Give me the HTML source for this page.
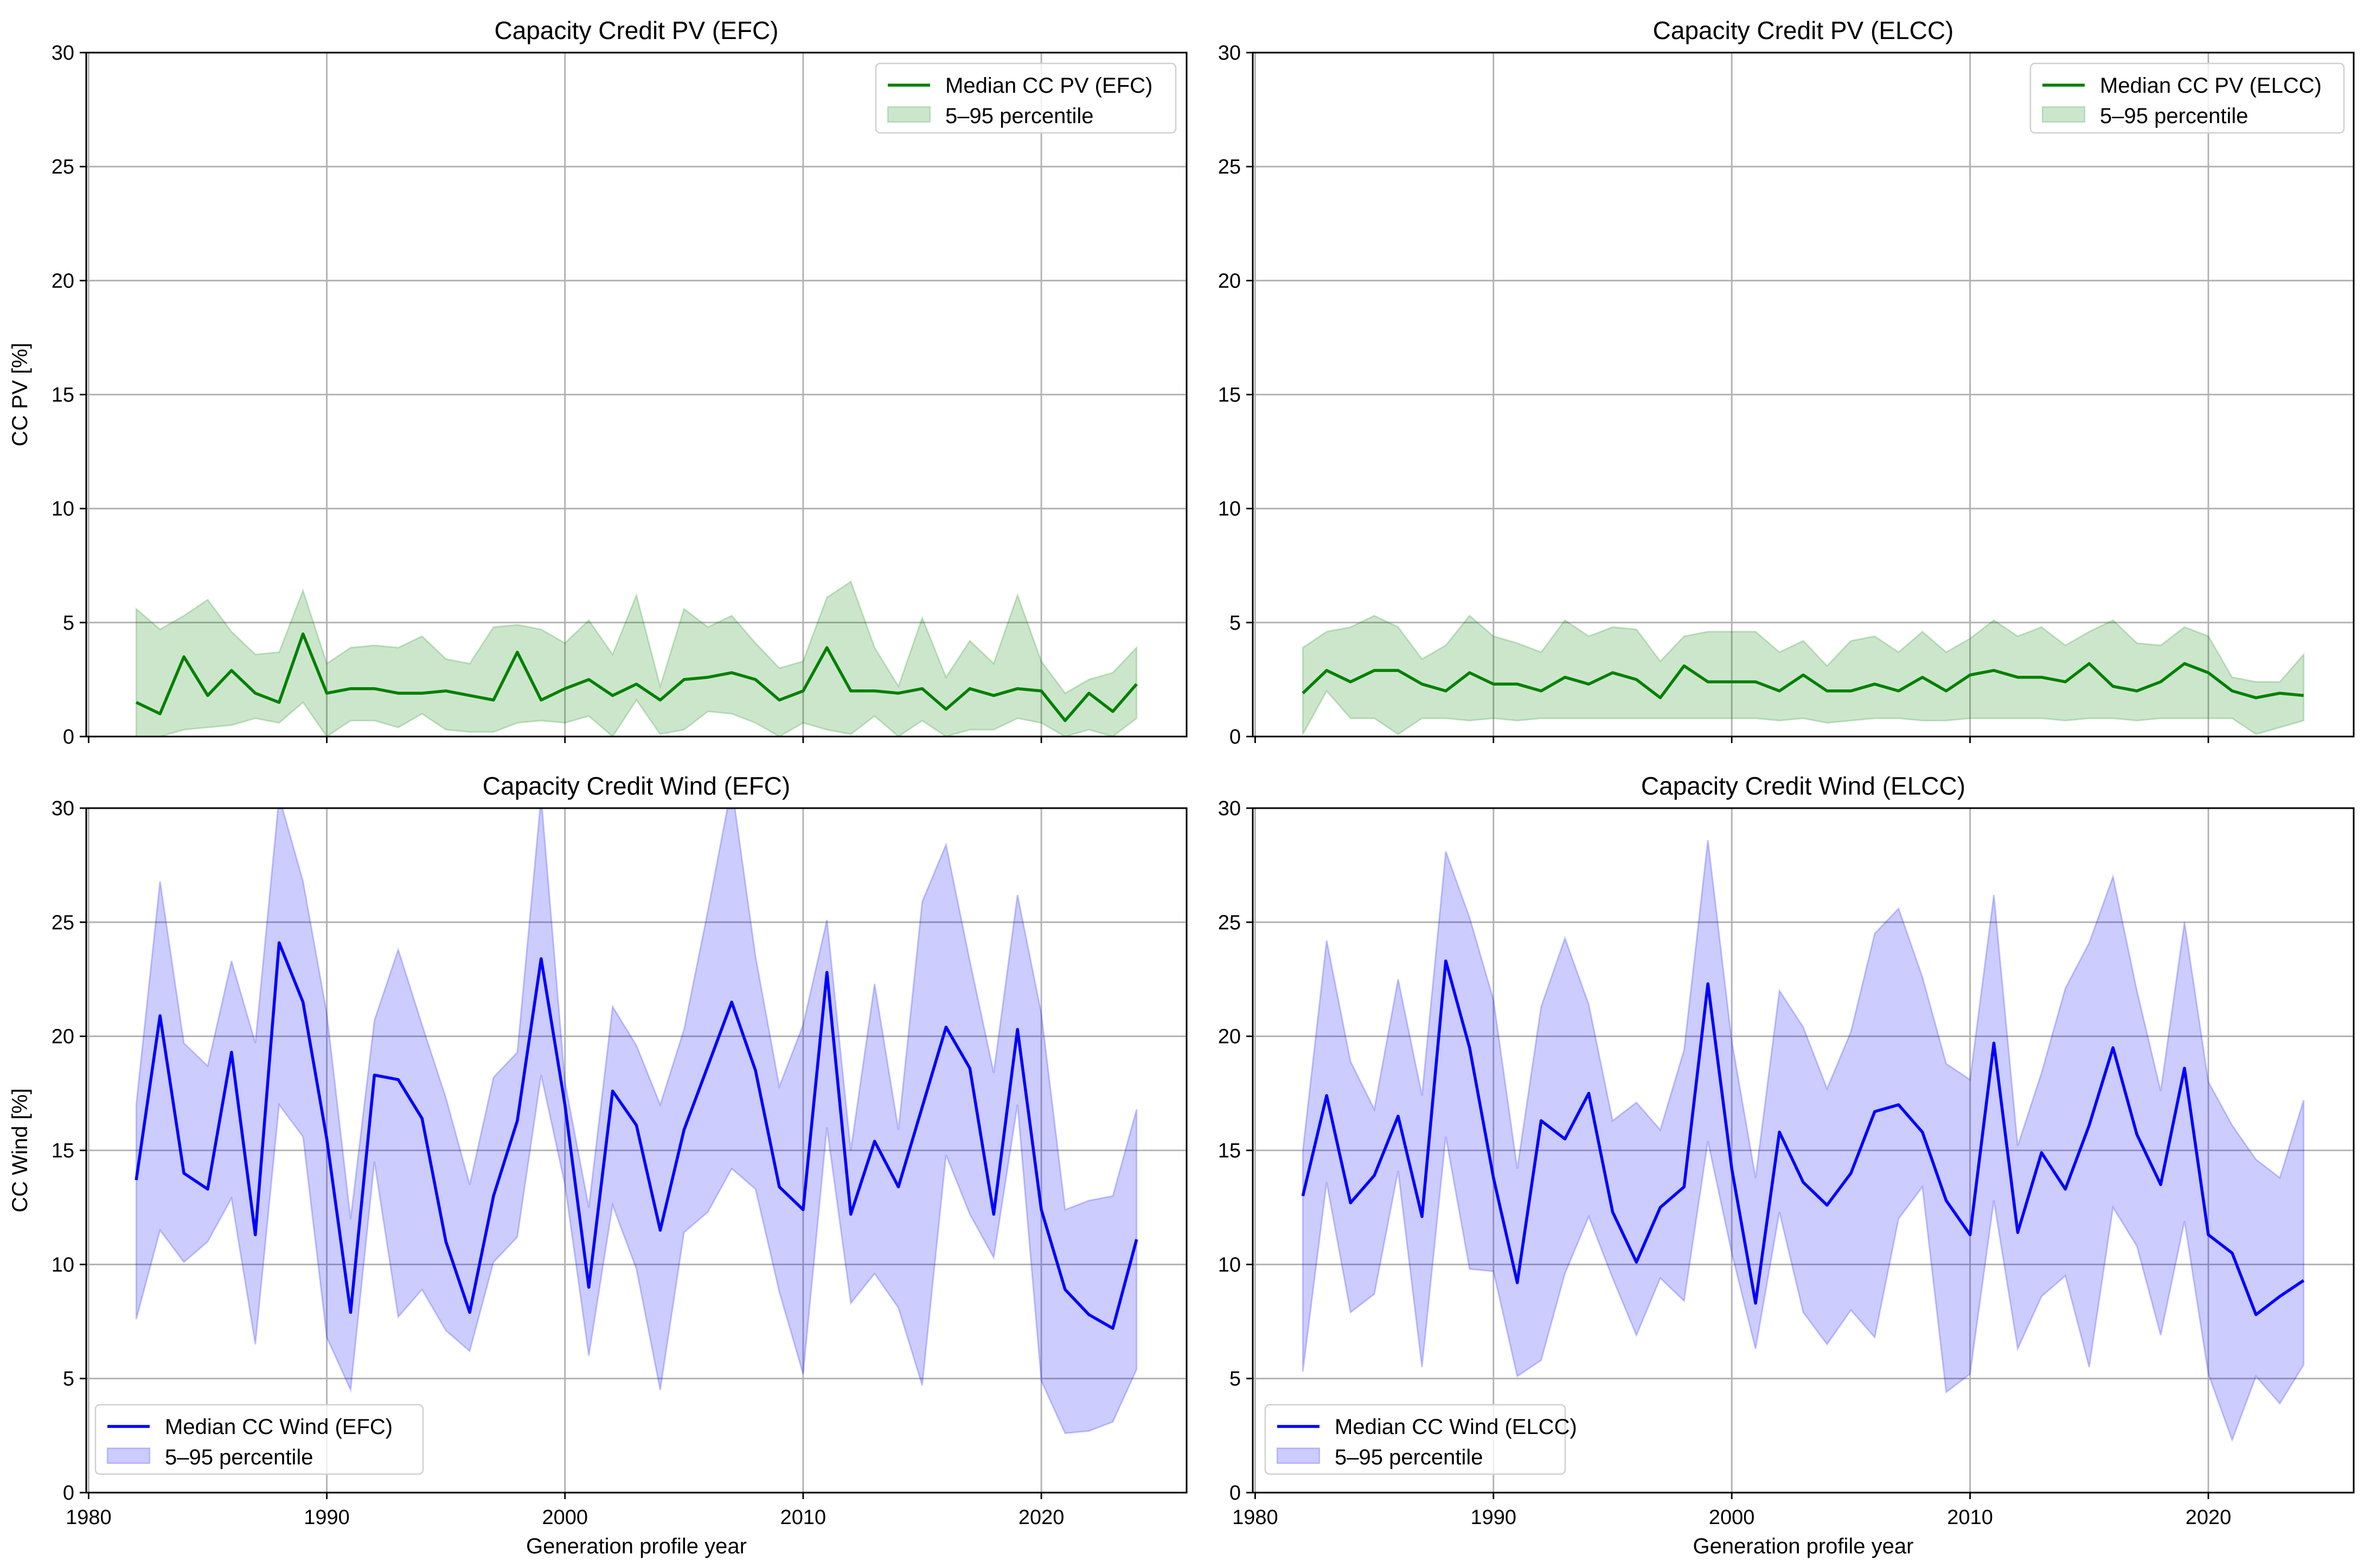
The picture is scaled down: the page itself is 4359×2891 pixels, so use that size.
<!DOCTYPE html>
<html><head><meta charset="utf-8"><style>
html,body{margin:0;padding:0;background:#fff}
svg{display:block;font-family:"Liberation Sans","DejaVu Sans",sans-serif}
</style></head><body>
<svg id="fig" width="4359" height="2891" viewBox="0 0 4359 2891" xmlns="http://www.w3.org/2000/svg"></svg>
<script>
const years = [];
for (let y = 1982; y <= 2024; y++) years.push(y);
const xTicks = [1980, 1990, 2000, 2010, 2020];
const yTicks = [0, 5, 10, 15, 20, 25, 30];

const pvEfcMedian = [1.5,1.0,3.5,1.8,2.9,1.9,1.5,4.5,1.9,2.1,2.1,1.9,1.9,2.0,1.8,1.6,3.7,1.6,2.1,2.5,1.8,2.3,1.6,2.5,2.6,2.8,2.5,1.6,2.0,3.9,2.0,2.0,1.9,2.1,1.2,2.1,1.8,2.1,2.0,0.7,1.9,1.1,2.3];
const pvEfcUpper = [5.6,4.7,5.3,6.0,4.6,3.6,3.7,6.4,3.2,3.9,4.0,3.9,4.4,3.4,3.2,4.8,4.9,4.7,4.1,5.1,3.6,6.2,2.2,5.6,4.8,5.3,4.1,3.0,3.3,6.1,6.8,3.9,2.2,5.2,2.6,4.2,3.2,6.2,3.3,1.9,2.5,2.8,3.9];
const pvEfcLower = [0,0,0.3,0.4,0.5,0.8,0.6,1.5,0,0.7,0.7,0.4,1.0,0.3,0.2,0.2,0.6,0.7,0.6,0.9,0,1.6,0.1,0.3,1.1,1.0,0.6,0,0.6,0.3,0.1,0.9,0,0.7,0,0.3,0.3,0.8,0.6,0,0.3,0,0.8];

const pvElccMedian = [1.9,2.9,2.4,2.9,2.9,2.3,2.0,2.8,2.3,2.3,2.0,2.6,2.3,2.8,2.5,1.7,3.1,2.4,2.4,2.4,2.0,2.7,2.0,2.0,2.3,2.0,2.6,2.0,2.7,2.9,2.6,2.6,2.4,3.2,2.2,2.0,2.4,3.2,2.8,2.0,1.7,1.9,1.8];
const pvElccUpper = [3.9,4.6,4.8,5.3,4.8,3.4,4.0,5.3,4.4,4.1,3.7,5.1,4.4,4.8,4.7,3.3,4.4,4.6,4.6,4.6,3.7,4.2,3.1,4.2,4.4,3.7,4.6,3.7,4.3,5.1,4.4,4.8,4.0,4.6,5.1,4.1,4.0,4.8,4.4,2.6,2.4,2.4,3.6];
const pvElccLower = [0.1,2.0,0.8,0.8,0.1,0.8,0.8,0.7,0.8,0.7,0.8,0.8,0.8,0.8,0.8,0.8,0.8,0.8,0.8,0.8,0.7,0.8,0.6,0.7,0.8,0.8,0.7,0.7,0.8,0.8,0.8,0.8,0.7,0.8,0.8,0.7,0.8,0.8,0.8,0.8,0.1,0.4,0.7];

const windEfcMedian = [13.7,20.9,14.0,13.3,19.3,11.3,24.1,21.5,15.5,7.9,18.3,18.1,16.4,11.0,7.9,13.0,16.3,23.4,17.0,9.0,17.6,16.1,11.5,15.9,18.7,21.5,18.5,13.4,12.4,22.8,12.2,15.4,13.4,16.9,20.4,18.6,12.2,20.3,12.4,8.9,7.8,7.2,11.1];
const windEfcUpper = [17.0,26.8,19.7,18.7,23.3,19.7,30.5,26.8,21.0,12.0,20.7,23.8,20.5,17.3,13.5,18.2,19.3,30.5,18.0,12.5,21.3,19.6,17.0,20.3,25.5,31.0,23.5,17.8,20.5,25.1,15.0,22.3,15.9,25.9,28.4,23.3,18.4,26.2,21.0,12.4,12.8,13.0,16.8];
const windEfcLower = [7.6,11.5,10.1,11.0,12.9,6.5,17.0,15.6,6.8,4.5,14.5,7.7,8.9,7.1,6.2,10.1,11.2,18.3,13.5,6.0,12.6,9.8,4.5,11.4,12.3,14.2,13.3,8.8,5.2,16.0,8.3,9.6,8.1,4.7,14.8,12.2,10.3,17.0,4.9,2.6,2.7,3.1,5.4];

const windElccMedian = [13.0,17.4,12.7,13.9,16.5,12.1,23.3,19.5,13.8,9.2,16.3,15.5,17.5,12.3,10.1,12.5,13.4,22.3,14.2,8.3,15.8,13.6,12.6,14.0,16.7,17.0,15.8,12.8,11.3,19.7,11.4,14.9,13.3,16.1,19.5,15.7,13.5,18.6,11.3,10.5,7.8,8.6,9.3];
const windElccUpper = [15.0,24.2,18.9,16.8,22.5,17.4,28.1,25.2,21.6,14.2,21.3,24.3,21.4,16.3,17.1,15.9,19.4,28.6,19.8,13.8,22.0,20.4,17.7,20.2,24.5,25.6,22.6,18.8,18.1,26.2,15.2,18.4,22.1,24.1,27.0,22.0,17.6,25.0,18.0,16.1,14.6,13.8,17.2];
const windElccLower = [5.3,13.6,7.9,8.7,14.1,5.5,15.6,9.8,9.7,5.1,5.8,9.6,12.1,9.4,6.9,9.4,8.4,15.4,10.5,6.3,12.3,7.9,6.5,8.0,6.8,12.0,13.4,4.4,5.2,12.8,6.3,8.6,9.5,5.5,12.5,10.8,6.9,11.9,5.2,2.3,5.1,3.9,5.6];

const NS = "http://www.w3.org/2000/svg";
const fig = document.getElementById('fig');
function mk(tag, attrs, parent) {
  const e = document.createElementNS(NS, tag);
  for (const k in attrs) e.setAttribute(k, attrs[k]);
  (parent || fig).appendChild(e);
  return e;
}
const XMIN = 1979.9, XMAX = 2026.1, YMIN = 0, YMAX = 30;

function panel(p) {
  const g = mk('g', {});
  
  
  const sx = v => p.x0 + (v - XMIN) / (XMAX - XMIN) * (p.x1 - p.x0);
  const sy = v => p.y1 - (v - YMIN) / (YMAX - YMIN) * (p.y1 - p.y0);
  const defsId = 'clip-' + p.name;
  const cp = mk('clipPath', {id: defsId}, g);
  mk('rect', {x: p.x0, y: p.y0, width: p.x1 - p.x0, height: p.y1 - p.y0}, cp);
  // grid
  xTicks.forEach(t => {
    const X = sx(t);
    if (X > p.x0 + 2 && X < p.x1) {
      const l = mk('line', {x1: X, x2: X, y1: p.y0, y2: p.y1, stroke: '#b0b0b0', 'stroke-width': 2.8}, g);
      
      
    }
  });
  yTicks.forEach(t => {
    const Y = sy(t);
    if (Y > p.y0 + 2 && Y < p.y1 - 2) {
      const l = mk('line', {x1: p.x0, x2: p.x1, y1: Y, y2: Y, stroke: '#b0b0b0', 'stroke-width': 2.8}, g);
      
      
    }
  });
  // band
  let d = '';
  years.forEach((yr, i) => { d += (i ? 'L' : 'M') + sx(yr).toFixed(1) + ',' + sy(p.upper[i]).toFixed(1); });
  for (let i = years.length - 1; i >= 0; i--) d += 'L' + sx(years[i]).toFixed(1) + ',' + sy(p.lower[i]).toFixed(1);
  d += 'Z';
  const band = mk('path', {d: d, fill: p.color, 'fill-opacity': 0.2, stroke: p.color, 'stroke-opacity': 0.2, 'stroke-width': 3, 'clip-path': 'url(#' + defsId + ')'}, g);
  
  
  // median
  let m = '';
  years.forEach((yr, i) => { m += (i ? 'L' : 'M') + sx(yr).toFixed(1) + ',' + sy(p.median[i]).toFixed(1); });
  const ml = mk('path', {d: m, fill: 'none', stroke: p.color, 'stroke-width': 5.5, 'stroke-linejoin': 'round', 'clip-path': 'url(#' + defsId + ')'}, g);
  
  
  // frame
  const fr = mk('rect', {x: p.x0, y: p.y0, width: p.x1 - p.x0, height: p.y1 - p.y0, fill: 'none', stroke: '#000', 'stroke-width': 3}, g);
  
  
  // ticks
  xTicks.forEach(t => {
    const X = sx(t);
    mk('line', {x1: X, x2: X, y1: p.y1, y2: p.y1 + 12, stroke: '#000', 'stroke-width': 2.8}, g);
    if (p.xlabels) {
      const tx = mk('text', {x: X, y: p.y1 + 58, 'font-size': 38, 'text-anchor': 'middle', fill: '#000'}, g);
      tx.textContent = t;
      
      
    }
  });
  yTicks.forEach(t => {
    const Y = sy(t);
    mk('line', {x1: p.x0 - 12, x2: p.x0, y1: Y, y2: Y, stroke: '#000', 'stroke-width': 2.8}, g);
    const tx = mk('text', {x: p.x0 - 22, y: Y + 13, 'font-size': 38, 'text-anchor': 'end', fill: '#000'}, g);
    tx.textContent = t;
    
    
  });
  // title
  const ti = mk('text', {x: (p.x0 + p.x1) / 2, y: p.y0 - 25, 'font-size': 46, 'text-anchor': 'middle', fill: '#000'}, g);
  ti.textContent = p.title;
  
  
  if (p.xtitle) {
    const xt = mk('text', {x: (p.x0 + p.x1) / 2, y: p.y1 + 112, 'font-size': 40, 'text-anchor': 'middle', fill: '#000'}, g);
    xt.textContent = 'Generation profile year';
    
    
  }
  if (p.ytitle) {
    const cy = (p.y0 + p.y1) / 2;
    const yt = mk('text', {x: 50, y: cy, 'font-size': 40, 'text-anchor': 'middle', fill: '#000', transform: 'rotate(-90 50 ' + cy + ')'}, g);
    yt.textContent = p.ytitle;
    
    
  }
  // legend
  const L = p.legend;
  const lg = mk('g', {}, g);
  
  
  mk('rect', {x: L.x, y: L.y, width: L.w, height: 128, rx: 8, fill: '#fff', 'fill-opacity': 0.8, stroke: '#d0d0d0', 'stroke-width': 2.5}, lg);
  mk('line', {x1: L.x + 22, x2: L.x + 100, y1: L.y + 40, y2: L.y + 40, stroke: p.color, 'stroke-width': 5.5}, lg);
  const t1 = mk('text', {x: L.x + 128, y: L.y + 54, 'font-size': 40, fill: '#000'}, lg);
  t1.textContent = L.label;
  
  
  mk('rect', {x: L.x + 22, y: L.y + 80, width: 78, height: 28, fill: p.color, 'fill-opacity': 0.2, stroke: p.color, 'stroke-opacity': 0.2, 'stroke-width': 2.5}, lg);
  const t2 = mk('text', {x: L.x + 128, y: L.y + 110, 'font-size': 40, fill: '#000'}, lg);
  t2.textContent = '5\u201395 percentile';
  
  
}

panel({name: 'panel-pv-efc', x0: 159, x1: 2188, y0: 97, y1: 1358, color: '#008000', median: pvEfcMedian, upper: pvEfcUpper, lower: pvEfcLower, title: 'Capacity Credit PV (EFC)', ytitle: 'CC PV [%]', legend: {x: 1615, y: 117, w: 553, label: 'Median CC PV (EFC)'}});
panel({name: 'panel-pv-elcc', x0: 2310, x1: 4340, y0: 97, y1: 1358, color: '#008000', median: pvElccMedian, upper: pvElccUpper, lower: pvElccLower, title: 'Capacity Credit PV (ELCC)', legend: {x: 3744, y: 117, w: 578, label: 'Median CC PV (ELCC)'}});
panel({name: 'panel-wind-efc', x0: 159, x1: 2188, y0: 1490, y1: 2752, color: '#0000ff', median: windEfcMedian, upper: windEfcUpper, lower: windEfcLower, title: 'Capacity Credit Wind (EFC)', ytitle: 'CC Wind [%]', xlabels: true, xtitle: true, legend: {x: 176, y: 2590, w: 604, label: 'Median CC Wind (EFC)'}});
panel({name: 'panel-wind-elcc', x0: 2310, x1: 4340, y0: 1490, y1: 2752, color: '#0000ff', median: windElccMedian, upper: windElccUpper, lower: windElccLower, title: 'Capacity Credit Wind (ELCC)', xlabels: true, xtitle: true, legend: {x: 2333, y: 2590, w: 553, label: 'Median CC Wind (ELCC)'}});
</script>
</body></html>
